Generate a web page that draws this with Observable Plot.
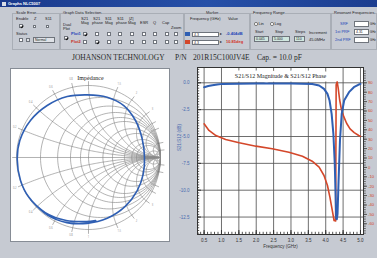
<!DOCTYPE html>
<html><head><meta charset="utf-8">
<script src="https://cdn.jsdelivr.net/npm/d3@7"></script>
<script src="https://cdn.jsdelivr.net/npm/@observablehq/plot@0.6"></script>
<style>
html,body{margin:0;padding:0}
body{width:377px;height:258px;overflow:hidden;background:#c6cad2;position:relative;font-family:"Liberation Sans",Arial,sans-serif;color:#222}
.a{position:absolute;white-space:nowrap;line-height:1}
.t{position:absolute;white-space:nowrap;line-height:1;font-size:4px}
.cb{position:absolute;width:4px;height:4px;background:#fff;border:0.6px solid #6f747c;box-sizing:border-box}
.gb{position:absolute;border:0.8px solid #a9aeb6}
.in{position:absolute;background:#fff;border:0.6px solid #6f747c;box-sizing:border-box;font-size:3.5px;line-height:4px;padding-left:1px;white-space:nowrap}
.hd{position:absolute;font-family:"Liberation Serif","Times New Roman",serif;font-size:7.5px;line-height:1;top:53.8px;color:#2a2a2a;white-space:nowrap}
.ck::after{content:"";position:absolute;left:0.8px;top:0.3px;width:1.2px;height:2px;border-right:0.7px solid #111;border-bottom:0.7px solid #111;transform:rotate(40deg)}
</style></head>
<body>
<!-- window title bar -->
<div class="a" style="left:0;top:0;width:377px;height:7px;background:linear-gradient(90deg,#1a398b,#2650a8 55%,#1c3d8f)"></div>
<div class="a" style="left:2px;top:1.5px;width:4px;height:4px;background:#d9dde6"></div>
<div class="t" style="left:8px;top:1.6px;color:#fff;font-weight:bold">Graphs NLC5007</div>

<!-- group boxes -->
<div class="gb" style="left:12px;top:13px;width:46px;height:35px"></div>
<div class="gb" style="left:60px;top:13px;width:122px;height:35px"></div>
<div class="gb" style="left:184px;top:13px;width:64px;height:35px"></div>
<div class="gb" style="left:250px;top:13px;width:79px;height:35px"></div>
<div class="gb" style="left:331px;top:13px;width:44px;height:35px"></div>

<!-- scale / status -->
<div class="t" style="left:16px;top:11px;background:#c6cad2">Scale Error</div>
<div class="t" style="left:16px;top:17px">Enable</div>
<div class="t" style="left:34px;top:17px">Z</div>
<div class="t" style="left:45px;top:17px">S11</div>
<div class="cb ck" style="left:19px;top:24px"></div>
<div class="cb" style="left:33px;top:25px;width:3px;height:3px"></div>
<div class="cb" style="left:46px;top:25px;width:3px;height:3px"></div>
<div class="t" style="left:16px;top:32px">Status</div>
<div class="cb" style="left:19px;top:38px"></div>
<div class="cb" style="left:26px;top:38px;background:#dfe2e7"></div>
<div class="in" style="left:33px;top:37px;width:22px;height:6px;background:#dfe2e7">Normal</div>

<!-- graph data selection -->
<div class="t" style="left:63px;top:11px;background:#c6cad2">Graph Data Selection</div>
<div class="t" style="left:63px;top:23px">Dual</div>
<div class="t" style="left:63px;top:27px">Plot</div>
<div class="cb ck" style="left:64px;top:36px"></div>
<div class="t" style="left:81px;top:17px">S21</div><div class="t" style="left:81px;top:21px">Mag</div>
<div class="t" style="left:93px;top:17px">S21</div><div class="t" style="left:92px;top:21px">phase</div>
<div class="t" style="left:105px;top:17px">S11</div><div class="t" style="left:105px;top:21px">Mag</div>
<div class="t" style="left:117px;top:17px">S11</div><div class="t" style="left:116px;top:21px">phase</div>
<div class="t" style="left:129px;top:17px">|Z|</div><div class="t" style="left:128px;top:21px">Mag</div>
<div class="t" style="left:140px;top:21px">ESR</div>
<div class="t" style="left:153px;top:21px">Q</div>
<div class="t" style="left:162px;top:21px">Cap</div>
<div class="t" style="left:171px;top:26px">Zoom</div>
<div class="t" style="left:71px;top:32px;color:#2446b8;font-weight:bold">Plot1</div>
<div class="t" style="left:71px;top:40px;color:#c8301e;font-weight:bold">Plot2</div>
<div class="cb ck" style="left:83px;top:32px"></div><div class="cb" style="left:95px;top:32px"></div><div class="cb" style="left:107px;top:32px"></div><div class="cb" style="left:118px;top:32px"></div><div class="cb" style="left:130px;top:32px"></div><div class="cb" style="left:142px;top:32px"></div><div class="cb" style="left:153px;top:32px"></div><div class="cb" style="left:165px;top:32px"></div><div class="cb" style="left:174px;top:32px"></div>
<div class="cb" style="left:83px;top:40px"></div><div class="cb ck" style="left:95px;top:40px"></div><div class="cb" style="left:107px;top:40px"></div><div class="cb" style="left:118px;top:40px"></div><div class="cb" style="left:130px;top:40px"></div><div class="cb" style="left:142px;top:40px"></div><div class="cb" style="left:153px;top:40px"></div><div class="cb" style="left:165px;top:40px"></div><div class="cb" style="left:174px;top:40px"></div>

<!-- marker -->
<div class="t" style="left:206px;top:11px;background:#c6cad2">Marker</div>
<div class="t" style="left:190px;top:17px">Frequency (GHz)</div>
<div class="t" style="left:228px;top:17px">Value</div>
<div class="a" style="left:185px;top:32px;width:5px;height:4px;background:#2f5fb3"></div>
<div class="a" style="left:185px;top:40px;width:5px;height:4px;background:#d4472a"></div>
<div class="in" style="left:192px;top:31.5px;width:27px;height:5px">4.3</div>
<div class="in" style="left:192px;top:39.5px;width:27px;height:5px">4.3</div>
<div class="t" style="left:220px;top:32px">▸</div>
<div class="t" style="left:220px;top:40px">▸</div>
<div class="t" style="left:226px;top:32px;color:#2446b8;font-weight:bold">-0.404dB</div>
<div class="t" style="left:226px;top:40px;color:#d4301e;font-weight:bold">10.85deg</div>

<!-- frequency range -->
<div class="t" style="left:253px;top:11px;background:#c6cad2">Frequency Range</div>
<div class="a" style="left:254px;top:22px;width:3.5px;height:3.5px;border-radius:50%;background:#fff;border:0.6px solid #666;box-sizing:border-box"></div>
<div class="t" style="left:258.5px;top:22px">Lin</div>
<div class="a" style="left:270px;top:22px;width:3.5px;height:3.5px;border-radius:50%;background:#fff;border:0.6px solid #666;box-sizing:border-box"></div>
<div class="t" style="left:274.5px;top:22px">Log</div>
<div class="t" style="left:255px;top:30px">Start</div>
<div class="t" style="left:275px;top:30px">Stop</div>
<div class="t" style="left:295px;top:30px">Steps</div>
<div class="t" style="left:309px;top:31px">Increment</div>
<div class="in" style="left:254px;top:36px;width:15px;height:6px;background:#cfe6de">0.045</div>
<div class="in" style="left:272px;top:36px;width:18px;height:6px;background:#cfe6de">5.000</div>
<div class="in" style="left:294px;top:36px;width:11px;height:6px;background:#cfe6de">110</div>
<div class="t" style="left:309px;top:38px">45.0MHz</div>

<!-- resonant frequencies -->
<div class="t" style="left:334px;top:11px;background:#c6cad2">Resonant Frequencies</div>
<div class="t" style="left:340px;top:22px;color:#2446b8">SRF</div>
<div class="t" style="left:335px;top:30px;color:#2446b8">1st PRF</div>
<div class="t" style="left:335px;top:38px;color:#2446b8">2nd PRF</div>
<div class="in" style="left:354px;top:21px;width:15px;height:6px"></div>
<div class="in" style="left:354px;top:29px;width:15px;height:6px">4.31</div>
<div class="in" style="left:354px;top:37px;width:15px;height:6px"></div>
<div class="t" style="left:369.8px;top:22.5px;font-size:3px">GHz</div>
<div class="t" style="left:369.8px;top:30.5px;font-size:3px">GHz</div>
<div class="t" style="left:369.8px;top:38.5px;font-size:3px">GHz</div>

<!-- header line -->
<div class="hd" style="left:72px">JOHANSON TECHNOLOGY</div>
<div class="hd" style="left:175px">P/N</div>
<div class="hd" style="left:193px">201R15C100JV4E</div>
<div class="hd" style="left:257px">Cap. = 10.0 pF</div>

<div id="smith" class="a" style="left:11px;top:69px;width:158px;height:172px;outline:1px solid #868c95"></div>
<div id="layerA" class="a" style="left:170px;top:60px"></div>
<div id="layerB" class="a" style="left:170px;top:60px"></div>
<div id="layerC" class="a" style="left:170px;top:60px"></div>

<script>
// ---- S21/S12 magnitude (dB) vs frequency (GHz)
const freqMag = [0.5, 0.62, 0.74, 0.88, 1.03, 1.5, 2.0, 2.5, 3.0, 3.3, 3.61, 3.81, 3.95, 4.05, 4.11, 4.17, 4.22, 4.26, 4.28, 4.30, 4.32, 4.34, 4.37, 4.41, 4.46, 4.53, 4.67, 4.81, 4.95, 5.0];
const magDb   = [-0.41, -0.3, -0.22, -0.15, -0.1, -0.08, -0.07, -0.07, -0.07, -0.08, -0.11, -0.25, -0.56, -1.03, -1.65, -2.89, -4.75, -7.54, -10.0, -12.6, -12.7, -12.2, -9.1, -5.37, -2.89, -1.65, -0.87, -0.41, -0.16, -0.12];
// ---- S21/S12 phase (deg) vs frequency (GHz)
const freqPhase = [0.5, 0.64, 0.84, 1.12, 1.51, 1.99, 2.46, 2.94, 3.33, 3.61, 3.81, 3.95, 4.05, 4.12, 4.19, 4.24, 4.285, 4.30, 4.33, 4.36, 4.40, 4.45, 4.52, 4.60, 4.70, 4.82, 4.95, 5.0];
const phaseDeg  = [46.4, 39.3, 33.9, 29.7, 26.2, 22.6, 19.8, 16.2, 11.9, 6.6, 0.2, -8.6, -19.3, -31.7, -45.9, -56.5, -57.0, 88.0, 91.0, 84.0, 72.0, 62.0, 54.0, 47.0, 41.0, 37.0, 34.0, 33.0];
// ---- axis ticks
const freqTicks  = [0.5, 1.0, 1.5, 2.0, 2.5, 3.0, 3.5, 4.0, 4.5, 5.0];
const dbTicks    = [0, -2.5, -5, -7.5, -10, -12.5];
const phaseTicks = [90, 80, 70, 60, 50, 40, 30, 20, 10, 0, -10, -20, -30, -40, -50, -60];
// ---- impedance locus on the Smith chart (reflection coefficient)
const gammaRe = [-0.80, -0.57, -0.30, -0.02, 0.26, 0.51, 0.675, 0.76, 0.778, 0.745, 0.653, 0.49, 0.259, -0.018, -0.296, -0.574, -0.806, -0.954, -0.99, -0.944, -0.83, -0.60, -0.31, -0.03, 0.10];
const gammaIm = [-0.59, -0.80, -0.905, -0.915, -0.845, -0.68, -0.465, -0.23, 0.0, 0.26, 0.514, 0.722, 0.838, 0.87, 0.847, 0.722, 0.514, 0.236, -0.02, -0.319, -0.55, -0.765, -0.875, -0.89, -0.875];
// ---- Smith chart grid values
const smithR = [0, 0.2, 0.4, 0.6, 0.8, 1, 1.5, 2, 3, 4, 5, 10, 20];
const smithX = [0.2, 0.4, 0.6, 0.8, 1, 1.5, 2, 3, 4, 5, 10, 20];

const BLUE = "#2f5fb3", RED = "#d4472a", AXBLUE = "#4a6bb0";

// ================= Smith chart =================
const grid = [];
smithR.forEach(r => {
  const c = r / (1 + r), R = 1 / (1 + r);
  d3.range(0, 361, 3).forEach(a => { const t = a * Math.PI / 180; grid.push({id: "r" + r, re: c + R * Math.cos(t), im: R * Math.sin(t)}); });
});
const allX = smithX.concat(smithX.map(x => -x));
allX.forEach(x => {
  d3.range(0, 89.6, 1).forEach(u => {
    const r = Math.tan(u * Math.PI / 180);
    const D = (r + 1) ** 2 + x * x;
    grid.push({id: "x" + x, re: (r * r + x * x - 1) / D, im: 2 * x / D});
  });
  grid.push({id: "x" + x, re: 1, im: 0});
});
grid.push({id: "axis", re: -1, im: 0}, {id: "axis", re: 1, im: 0});
const ticks = allX.concat([0]).map(x => {
  const D = 1 + x * x, re = (x * x - 1) / D, im = 2 * x / D;
  return {x1: re, y1: im, x2: re * 1.06, y2: im * 1.06, lx: re * 1.11, ly: im * 1.11, lab: String(Math.abs(x))};
});
const tickLabels = ticks.filter(d => d.x1 > -0.93 && d.x1 < 0.85);
const locus = gammaRe.map((re, i) => ({re, im: gammaIm[i]}));

document.getElementById("smith").append(Plot.plot({
  width: 158, height: 172, margin: 0,
  x: {domain: [-1.0694, 1.125], axis: null},
  y: {domain: [-1.1667, 1.2222], axis: null},
  style: {background: "white", overflow: "hidden"},
  marks: [
    Plot.line(grid, {x: "re", y: "im", z: "id", stroke: "#8a8a8a", strokeWidth: 0.65}),
    Plot.link(ticks, {x1: "x1", y1: "y1", x2: "x2", y2: "y2", stroke: "#8a8a8a", strokeWidth: 0.65}),
    Plot.text(tickLabels, {x: "lx", y: "ly", text: "lab", fill: "#999", fontSize: 2.6}),
    Plot.line(locus, {x: "re", y: "im", curve: "catmull-rom", stroke: BLUE, strokeWidth: 1.6}),
    Plot.text(["Impedance"], {frameAnchor: "top", dy: 6, fontFamily: "Liberation Serif, serif", fontSize: 6, fill: "#222"})
  ]
}));

// ================= S21/S12 chart =================
const W = 207, H = 198;
const M = {marginLeft: 27, marginRight: 14, marginTop: 7, marginBottom: 24};
const xDom = [0.31, 5.087], dbDom = [-14.125, 1.425], phDom = [-71.4, 106.3];
const magRows = freqMag.map((f, i) => ({f, v: magDb[i]}));
const phRows = freqPhase.map((f, i) => ({f, v: phaseDeg[i]}));
const minorDb = d3.range(-14, 1.3, 0.25);
const minorF = d3.range(0.4, 5.05, 0.1);
const minorPh = d3.range(-70, 105, 2.5);
const st = {background: "transparent", fontFamily: "Liberation Sans, Arial, sans-serif", fontSize: "4.5px", overflow: "visible"};

document.getElementById("layerA").append(Plot.plot({
  width: W, height: H, ...M,
  x: {domain: xDom}, y: {domain: dbDom},
  style: st,
  marks: [
    Plot.frame({fill: "white", stroke: null}),
    Plot.gridX(freqTicks, {stroke: "#555", strokeOpacity: 0.85}),
    Plot.gridY(dbTicks, {stroke: "#555", strokeOpacity: 0.85}),
    Plot.axisY(minorDb, {anchor: "left", tickSize: -2.2, fill: "none", stroke: "#555", label: null}),
    Plot.axisY(dbTicks, {anchor: "left", tickSize: -4, fill: "none", stroke: "#333", label: null}),
    Plot.axisY(dbTicks, {anchor: "left", tickSize: 0, tickPadding: 8, fill: AXBLUE, tickFormat: d => d.toFixed(1), label: null}),
    Plot.axisX(minorF, {anchor: "bottom", tickSize: -2.2, fill: "none", stroke: "#555", label: null}),
    Plot.axisX(freqTicks, {anchor: "bottom", tickSize: -4, fill: "none", stroke: "#333", label: null}),
    Plot.axisX(freqTicks, {anchor: "bottom", tickSize: 0, tickPadding: 4.5, fill: "#333", tickFormat: d => d.toFixed(1), label: null}),
    Plot.text(["Frequency (GHz)"], {frameAnchor: "bottom", dy: 13.5, fill: "#333"}),
    Plot.text(["S21/S12 (dB)"], {frameAnchor: "left", dx: -18, rotate: -90, fill: AXBLUE}),
    Plot.text(["S21/S12 Magnitude & S21/S12 Phase"], {frameAnchor: "top", dy: 6.7, fontFamily: "Liberation Serif, serif", fontSize: 6, fill: "#222", stroke: "white", strokeWidth: 7}),
    Plot.frame({stroke: "#333"})
  ]
}));

document.getElementById("layerB").append(Plot.plot({
  width: W, height: H, ...M,
  x: {domain: xDom, axis: null}, y: {domain: phDom, axis: null},
  style: st,
  marks: [
    Plot.axisY(minorPh, {anchor: "right", tickSize: 1.8, fill: "none", stroke: "#666", label: null}),
    Plot.axisY(phaseTicks, {anchor: "right", tickSize: 3, tickPadding: 1.5, fill: RED, stroke: "#555", fontSize: 4.2, tickFormat: d => d.toFixed(0), label: null}),
    Plot.line(phRows, {x: "f", y: "v", stroke: RED, strokeWidth: 1.6})
  ]
}));

document.getElementById("layerC").append(Plot.plot({
  width: W, height: H, ...M,
  x: {domain: xDom, axis: null}, y: {domain: dbDom, axis: null},
  style: st,
  marks: [
    Plot.line(magRows, {x: "f", y: "v", stroke: BLUE, strokeWidth: 2})
  ]
}));
</script>
</body></html>
